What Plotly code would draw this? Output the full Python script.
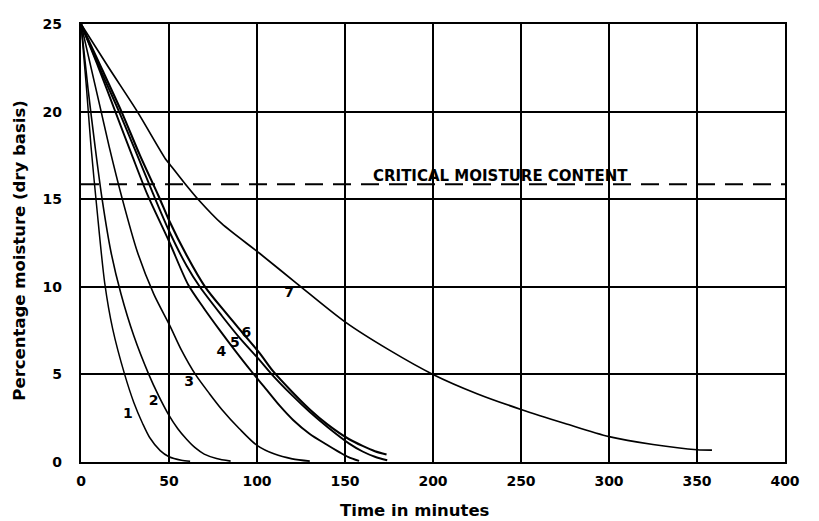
import plotly.graph_objects as go

# ---- data (time in minutes, percentage moisture, dry basis) ----
t1 = [0, 3, 5.7, 9, 13.5, 18, 24.8, 30, 35, 39, 45, 50, 57, 62]
m1 = [25, 21.5, 18, 14.5, 10.2, 7.6, 5.0, 3.4, 2.2, 1.4, 0.65, 0.3, 0.1, 0.04]

t2 = [0, 4, 8, 12, 17, 22.7, 30, 38.5, 44, 49.5, 55, 60, 65, 70, 77, 85]
m2 = [25, 21.3, 18, 15, 12, 9.6, 7.2, 5.0, 3.8, 2.75, 1.9, 1.3, 0.8, 0.45, 0.2, 0.05]

t3 = [0, 11, 16, 23.5, 32, 41.3, 50.4, 57, 65, 73, 80, 90, 100, 110, 120, 130]
m3 = [25, 20.2, 18, 15, 12, 9.6, 7.8, 6.4, 5.0, 3.9, 3.0, 1.9, 0.95, 0.45, 0.18, 0.05]

t4 = [0, 10, 19.5, 29, 38, 50, 61, 70, 79, 88, 97, 104, 113, 120.5, 130, 139.5, 147, 152, 158]
m4 = [25, 22.5, 20, 17.5, 15.2, 12.6, 10.1, 8.75, 7.5, 6.3, 5.15, 4.3, 3.2, 2.4, 1.6, 1.0, 0.55, 0.28, 0.06]

t5 = [0, 11, 21.6, 32, 41, 50, 60, 67.5, 80, 90, 101.6, 108, 120, 130, 140, 152.4, 160, 167, 174]
m5 = [25, 22.4, 20, 17.5, 15.3, 13.2, 11.2, 10.0, 8.35, 7.1, 5.8, 5.05, 3.8, 2.85, 2.0, 1.05, 0.6, 0.3, 0.1]

t6 = [0, 12, 23, 33.5, 44, 50, 60, 70.5, 82, 92, 101.6, 109, 120, 130, 140, 152.4, 160, 167, 173.6]
m6 = [25, 22.4, 20, 17.5, 15.2, 13.8, 11.8, 10.0, 8.55, 7.35, 6.2, 5.2, 4.0, 3.0, 2.15, 1.3, 0.92, 0.62, 0.43]

t7 = [0, 15.8, 32, 48, 50.4, 59, 66.5, 80, 101.6, 122.5, 150, 175, 200, 225, 250, 275, 300, 325, 350, 358.5]
m7 = [25, 22.5, 20, 17.3, 17.0, 15.9, 15.0, 13.6, 11.9, 10.2, 8.0, 6.4, 5.0, 3.9, 3.0, 2.2, 1.45, 1.0, 0.7, 0.68]

critical_moisture = 15.85
critical_label = "CRITICAL MOISTURE CONTENT"

curve_names = ["1", "2", "3", "4", "5", "6", "7"]
label_t = [26.7, 41.3, 61.4, 79.8, 87.4, 94.0, 118.3]
label_m = [2.73, 3.43, 4.56, 6.27, 6.74, 7.36, 9.64]

x_ticks = [0, 50, 100, 150, 200, 250, 300, 350, 400]
y_ticks = [0, 5, 10, 15, 20, 25]

FONT = "DejaVu Sans"

fig = go.Figure()

# critical moisture dashed line
fig.add_trace(go.Scatter(
    x=[x_ticks[0], x_ticks[-1]], y=[critical_moisture, critical_moisture],
    mode="lines", line=dict(color="black", width=2, dash="18px,10px"),
    hoverinfo="skip", showlegend=False))

curves = [(t1, m1, 1.5), (t2, m2, 1.6), (t3, m3, 1.6), (t4, m4, 1.9),
          (t5, m5, 1.9), (t6, m6, 2.1), (t7, m7, 1.7)]
for (t, m, w), name in zip(curves, curve_names):
    fig.add_trace(go.Scatter(
        x=t, y=m, mode="lines", name=name,
        line=dict(color="black", width=w, shape="spline", smoothing=0.8),
        showlegend=False))

# curve number labels
fig.add_trace(go.Scatter(
    x=label_t, y=label_m, mode="text", text=curve_names,
    textfont=dict(family=FONT, size=14, color="black", weight="bold"),
    hoverinfo="skip", showlegend=False))

axis_common = dict(
    showgrid=True, gridcolor="black", gridwidth=1.7,
    showline=True, linecolor="black", linewidth=2.2, mirror=True,
    zeroline=False, ticks="",
    tickfont=dict(family=FONT, size=14, color="black", weight="bold"),
)

# the page body has an 8px margin, so margins are offset by 8px
fig.update_layout(
    width=819, height=521,
    margin=dict(l=73, r=42, t=8, b=67),
    paper_bgcolor="white", plot_bgcolor="white",
    xaxis=dict(range=[x_ticks[0], x_ticks[-1]], tickvals=x_ticks,
               ticklabelstandoff=5, **axis_common),
    yaxis=dict(range=[y_ticks[0], y_ticks[-1]], tickvals=y_ticks,
               ticklabelstandoff=14, **axis_common),
    annotations=[
        dict(text=critical_label, x=238.5, y=critical_moisture, xref="x", yref="y",
             xanchor="center", yanchor="bottom", yshift=-3, showarrow=False,
             font=dict(family=FONT, size=15, color="black", weight="bold")),
        dict(text="Time in minutes", x=0.475, y=-0.111, xref="paper", yref="paper",
             xanchor="center", yanchor="middle", showarrow=False,
             font=dict(family=FONT, size=16.5, color="black", weight="bold")),
        dict(text="Percentage moisture (dry basis)", x=-0.087, y=0.482,
             xref="paper", yref="paper", textangle=-90,
             xanchor="center", yanchor="middle", showarrow=False,
             font=dict(family=FONT, size=16.5, color="black", weight="bold")),
    ],
)

fig.write_html("out.html")
